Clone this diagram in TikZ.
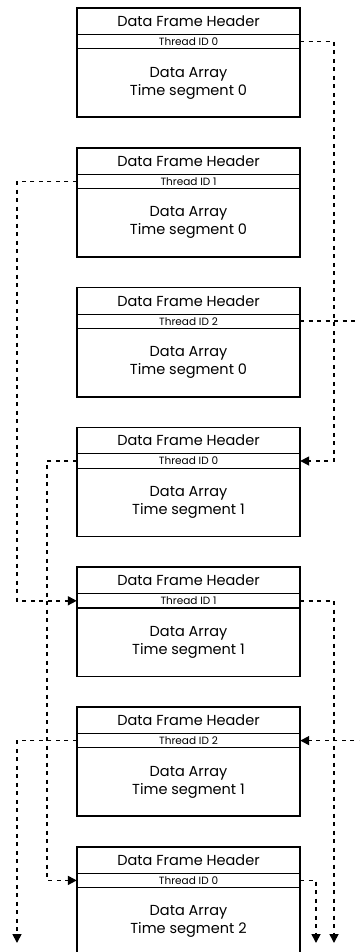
\documentclass[tikz,border=0pt]{standalone}
\usepackage{fontspec}
\setmainfont{Poppins}
\usetikzlibrary{positioning,arrows.meta}

\tikzset{
  hdrbox/.style={minimum width=223pt, minimum height=26pt, inner sep=0pt,
    font=\fontsize{14.5}{16}\selectfont},
  thrbox/.style={minimum width=223pt, minimum height=14pt, inner sep=0pt,
    font=\fontsize{10.5}{11}\selectfont},
  arrbox/.style={minimum width=223pt, minimum height=68pt, inner sep=0pt,
    align=center, font=\fontsize{14.5}{18}\selectfont},
  link/.style={line width=1.7pt, dash pattern=on 4pt off 4.5pt},
  linkarrow/.style={link, -{Triangle[length=9pt,width=9pt]}},
}

\begin{document}
\begin{tikzpicture}[x=1pt,y=-1pt]
  \path[use as bounding box, clip] (0,0) rectangle (359,952);
  % Data frames
  \foreach \i/\t/\s in {1/0/0,2/1/0,3/2/0,4/0/1,5/1/1,6/2/1,7/0/2} {
    \node[hdrbox, anchor=north] (h\i) at (188.5,{8+139.8*(\i-1)}) {Data Frame Header};
    \node[thrbox, below=0pt of h\i] (t\i) {Thread ID \t};
    \node[arrbox, below=0pt of t\i] (a\i) {Data Array\\Time segment \s};
    \draw[line width=1.6pt] (h\i.north west) rectangle (a\i.south east);
    \draw[line width=0.7pt] (h\i.south west) -- (h\i.south east);
    \draw[line width=1.3pt] (t\i.south west) -- (t\i.south east);
  }
  % Rails for the thread links
  \coordinate (rA) at (334,0);
  \coordinate (rB) at (364,0);
  \coordinate (rC) at (316,0);
  \coordinate (lA) at (17,0);
  \coordinate (lB) at (47,0);
  \coordinate (bot) at (0,943);
  % Thread links
  \draw[linkarrow] (t1.east) -- (t1.east -| rA) -- (t4.east -| rA) -- (t4.east);
  \draw[linkarrow] (t2.west) -- (t2.west -| lA) -- (t5.west -| lA) -- (t5.west);
  \draw[linkarrow] (t3.east) -- (t3.east -| rB) -- (t6.east -| rB) -- (t6.east);
  \draw[linkarrow] (t4.west) -- (t4.west -| lB) -- (t7.west -| lB) -- (t7.west);
  \draw[linkarrow] (t5.east) -- (t5.east -| rA) -- (rA |- bot);
  \draw[linkarrow] (t6.west) -- (t6.west -| lA) -- (lA |- bot);
  \draw[linkarrow] (t7.east) -- (t7.east -| rC) -- (rC |- bot);
\end{tikzpicture}
\end{document}
